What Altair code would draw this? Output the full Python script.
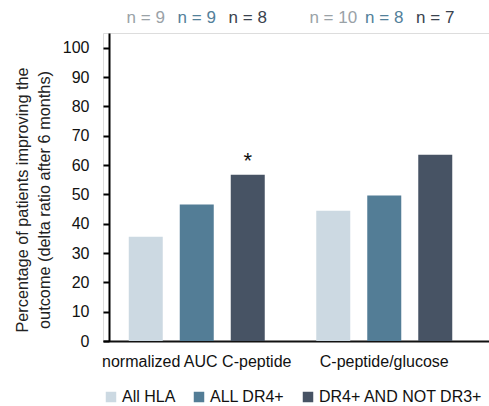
import altair as alt
import pandas as pd

measures = ["normalized AUC C-peptide", "C-peptide/glucose"]
groups = ["All HLA", "ALL DR4+", "DR4+ AND NOT DR3+"]
values = [35.5, 46.5, 56.7, 44.4, 49.6, 63.5]
n_counts = [9, 9, 8, 10, 8, 7]
markers = ["", "", "*", "", "", ""]
y_ticks = [0, 10, 20, 30, 40, 50, 60, 70, 80, 90, 100]

bar_colors = ["#CCD9E2", "#537D96", "#475364"]
n_colors = ["#9AA2A7", "#52809A", "#3A424E"]

rows = []
i = 0
for m in measures:
    for g in groups:
        rows.append({"measure": m, "group": g, "value": values[i],
                     "nlabel": f"n = {n_counts[i]}", "marker": markers[i]})
        i += 1
df = pd.DataFrame(rows)

FONT = "Liberation Sans"

x_axis = alt.Axis(title=None, ticks=False, labelAngle=0, labelFontSize=16,
                  labelColor="#111111", labelPadding=12, labelLimit=0,
                  domainColor="#111111", domainWidth=2)
x_enc = alt.X("measure:N", sort=measures,
              scale=alt.Scale(paddingInner=0, paddingOuter=0.0293, align=0),
              axis=x_axis)
xo_enc = alt.XOffset("group:N", sort=groups,
                     scale=alt.Scale(paddingInner=1/3, paddingOuter=0.505))
y_scale = alt.Scale(domain=[0, 105], nice=False, zero=True)
y_axis = alt.Axis(title=["Percentage of patients improving the",
                         "outcome (delta ratio after 6 months)"],
                  values=y_ticks, grid=False,
                  offset=-6, labelFontSize=16, labelColor="#111111",
                  labelPadding=14, tickSize=6, tickWidth=2,
                  tickColor="#000000", domainColor="#000000",
                  domainWidth=2, titleFontSize=16.3,
                  titleFontWeight="normal", titleColor="#222222",
                  titleLineHeight=22, titlePadding=10, titleY=166.5)
y_enc = alt.Y("value:Q", scale=y_scale, axis=y_axis)

base = alt.Chart(df)

bars = base.mark_bar().encode(
    x=x_enc,
    xOffset=xo_enc,
    y=y_enc,
    color=alt.Color("group:N", sort=groups,
                    scale=alt.Scale(domain=groups, range=bar_colors),
                    legend=alt.Legend(title=None, orient="none", direction="horizontal",
                                      legendX=0, legendY=356, symbolType="square",
                                      symbolSize=110, symbolStrokeWidth=0,
                                      labelFontSize=16, labelColor="#111111",
                                      labelOffset=3, columnPadding=15, labelLimit=0,
                                      labelFont=FONT)),
)

nlabels = base.mark_text(fontSize=17, baseline="middle", font=FONT).encode(
    x=x_enc,
    xOffset=xo_enc,
    y=alt.value(-15),
    text="nlabel:N",
    color=alt.Color("group:N", sort=groups,
                    scale=alt.Scale(domain=groups, range=n_colors), legend=None),
)

stars = base.mark_text(fontSize=22, baseline="bottom", dy=-2, color="#111111",
                       font=FONT).encode(
    x=x_enc,
    xOffset=xo_enc,
    y=y_enc,
    text="marker:N",
)

chart = alt.layer(bars, nlabels, stars).resolve_scale(color="independent").properties(
    width=386, height=308,
    padding={"left": 103, "top": 33, "right": 0, "bottom": 65},
    autosize=alt.AutoSizeParams(type="none"),
).configure_view(stroke=None).configure(font=FONT)

chart.save("out.html", embed_options={"renderer": "svg", "actions": False})
